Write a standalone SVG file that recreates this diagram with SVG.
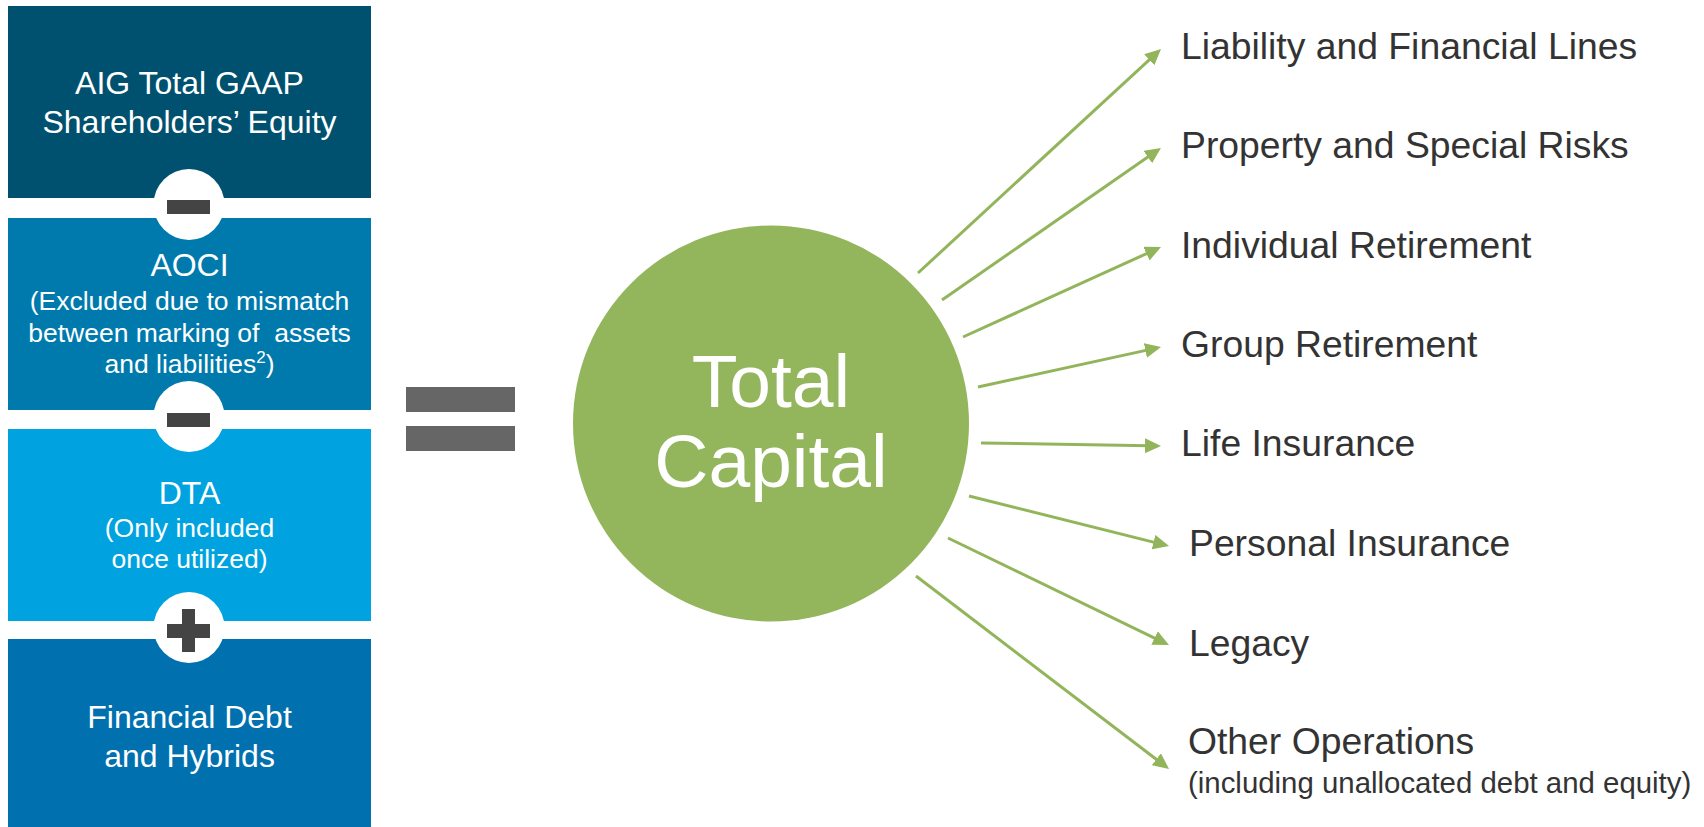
<svg xmlns="http://www.w3.org/2000/svg" width="1704" height="827" viewBox="0 0 1704 827">
  <style>
    .box-title { font-family: "Liberation Sans", Arial, sans-serif; font-size: 32px; fill: #ffffff; text-anchor: middle; }
    .box-note { font-family: "Liberation Sans", Arial, sans-serif; font-size: 26.5px; fill: #ffffff; text-anchor: middle; white-space: pre; }
    .op-badge { fill: #ffffff; }
    .op-mark { fill: #444444; }
    .equals { fill: #666666; }
    .hub-label { font-family: "Liberation Sans", Arial, sans-serif; font-size: 75px; fill: #ffffff; text-anchor: middle; }
    .seg { font-family: "Liberation Sans", Arial, sans-serif; font-size: 37.3px; fill: #333333; }
    .seg-note { font-family: "Liberation Sans", Arial, sans-serif; font-size: 29.4px; fill: #333333; }
    .link { stroke: #92B55C; stroke-width: 3; fill: none; marker-end: url(#arrow); }
  </style>
  <defs>
    <marker id="arrow" markerUnits="userSpaceOnUse" markerWidth="16" markerHeight="15" refX="4" refY="7.5" orient="auto">
      <path d="M0,0 L16,7.5 L0,15 Z" fill="#92B55C"/>
    </marker>
  </defs>
  <rect width="1704" height="827" fill="#ffffff"/>

  <!-- Left column: equity build-up -->
  <g id="equity">
    <rect x="8" y="6" width="363" height="192" fill="#00516F"/>
    <text class="box-title" x="189.5" y="94">AIG Total GAAP</text>
    <text class="box-title" x="189.5" y="133">Shareholders’ Equity</text>
  </g>
  <g id="aoci">
    <rect x="8" y="218" width="363" height="192" fill="#007AAD"/>
    <text class="box-title" x="189.5" y="276">AOCI</text>
    <text class="box-note" x="189.5" y="310">(Excluded due to mismatch</text>
    <text class="box-note" x="189.5" y="342">between marking of  assets</text>
    <text class="box-note" x="189.5" y="373">and liabilities<tspan font-size="17" dy="-10">2</tspan><tspan dy="10">)</tspan></text>
  </g>
  <g id="dta">
    <rect x="8" y="429" width="363" height="192" fill="#00A3E0"/>
    <text class="box-title" x="189.5" y="504">DTA</text>
    <text class="box-note" x="189.5" y="537">(Only included</text>
    <text class="box-note" x="189.5" y="568">once utilized)</text>
  </g>
  <g id="debt">
    <rect x="8" y="639" width="363" height="188" fill="#0070AE"/>
    <text class="box-title" x="189.5" y="728">Financial Debt</text>
    <text class="box-title" x="189.5" y="767">and Hybrids</text>
  </g>

  <!-- Operator badges between boxes -->
  <g id="minus-1">
    <circle class="op-badge" cx="189" cy="204.5" r="35.5"/>
    <rect class="op-mark" x="167" y="200" width="43" height="14"/>
  </g>
  <g id="minus-2">
    <circle class="op-badge" cx="189" cy="416.5" r="35.5"/>
    <rect class="op-mark" x="167" y="413" width="43" height="14"/>
  </g>
  <g id="plus">
    <circle class="op-badge" cx="189" cy="627.5" r="35.5"/>
    <rect class="op-mark" x="167" y="624" width="43" height="14"/>
    <rect class="op-mark" x="182" y="609" width="13" height="43"/>
  </g>

  <!-- Equals sign -->
  <g id="equals">
    <rect class="equals" x="406" y="387" width="109" height="25"/>
    <rect class="equals" x="406" y="426" width="109" height="25"/>
  </g>

  <!-- Central hub -->
  <g id="total-capital">
    <circle cx="771" cy="423.5" r="198" fill="#93B65D"/>
    <text class="hub-label" x="771" y="407">Total</text>
    <text class="hub-label" x="771" y="487">Capital</text>
  </g>

  <!-- Allocation arrows -->
  <g id="connectors">
    <line class="link" x1="918" y1="273" x2="1152.2" y2="57.1"/>
    <line class="link" x1="942" y1="300" x2="1151.1" y2="154.8"/>
    <line class="link" x1="963" y1="337" x2="1150.1" y2="252.0"/>
    <line class="link" x1="978" y1="387" x2="1149.3" y2="349.6"/>
    <line class="link" x1="981" y1="443" x2="1149" y2="445.8"/>
    <line class="link" x1="969" y1="496" x2="1157.4" y2="543.1"/>
    <line class="link" x1="948" y1="538" x2="1158.2" y2="639.8"/>
    <line class="link" x1="916" y1="576" x2="1159.5" y2="761.7"/>
  </g>

  <!-- Segment labels -->
  <g id="liability-financial-lines"><text class="seg" x="1181" y="59">Liability and Financial Lines</text></g>
  <g id="property-special-risks"><text class="seg" x="1181" y="158">Property and Special Risks</text></g>
  <g id="individual-retirement"><text class="seg" x="1181" y="258">Individual Retirement</text></g>
  <g id="group-retirement"><text class="seg" x="1181" y="357">Group Retirement</text></g>
  <g id="life-insurance"><text class="seg" x="1181" y="456">Life Insurance</text></g>
  <g id="personal-insurance"><text class="seg" x="1189" y="556">Personal Insurance</text></g>
  <g id="legacy"><text class="seg" x="1189" y="656">Legacy</text></g>
  <g id="other-operations">
    <text class="seg" x="1188" y="754">Other Operations</text>
    <text class="seg-note" x="1188" y="793">(including unallocated debt and equity)</text>
  </g>
</svg>
